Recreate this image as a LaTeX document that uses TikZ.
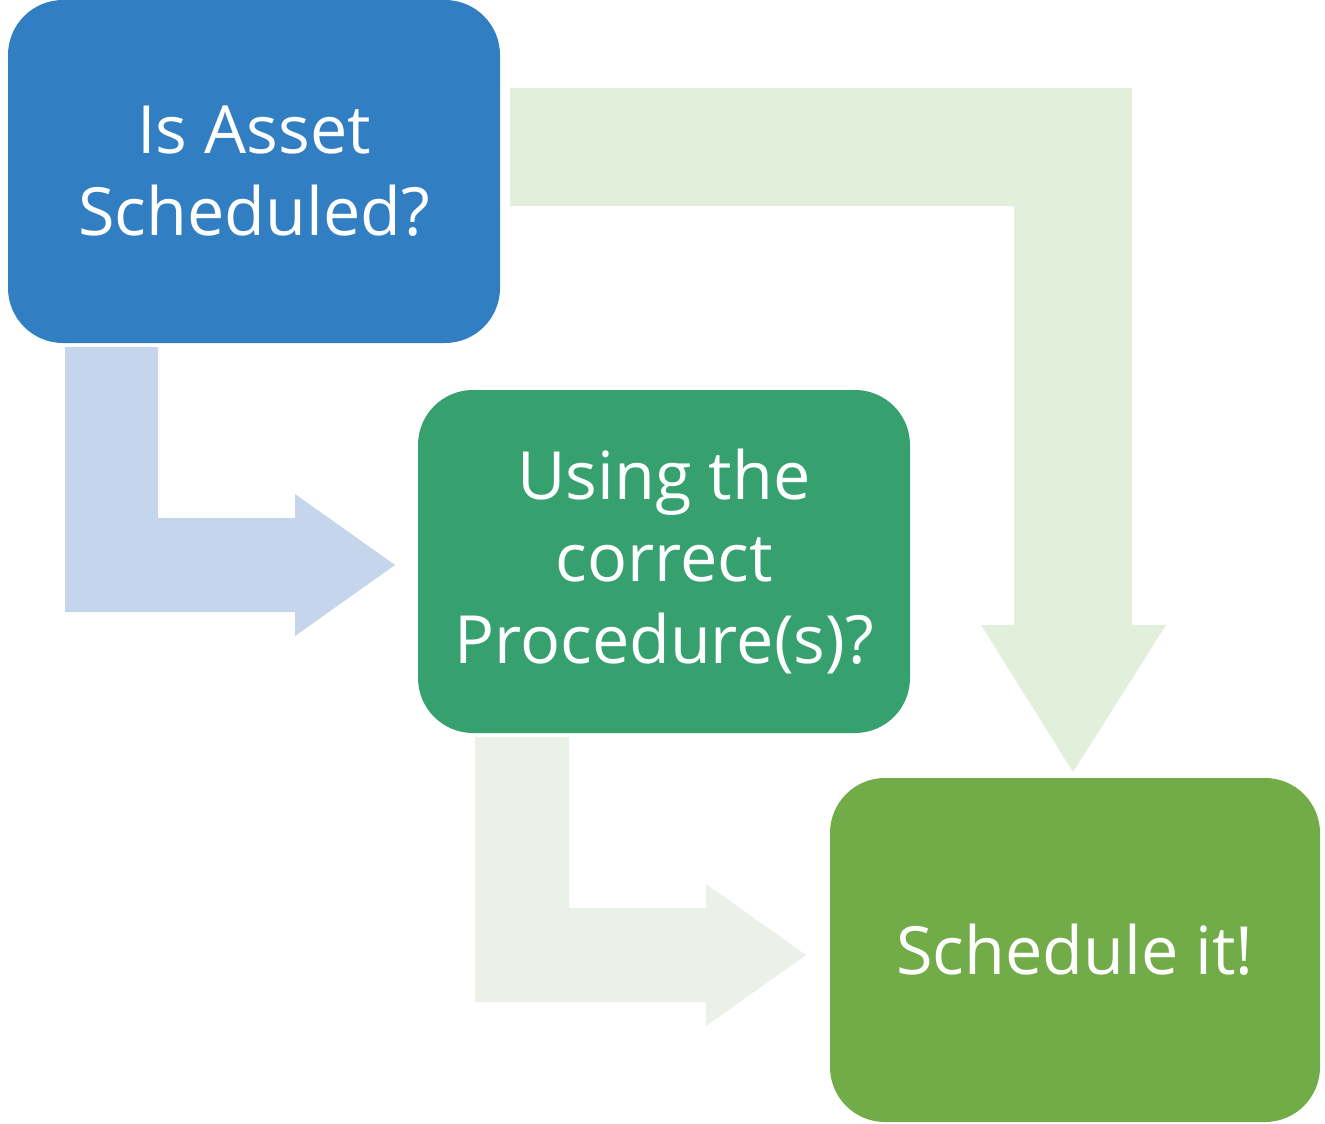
\documentclass[tikz,border=0pt]{standalone}
\usepackage{fontspec}
\setmainfont{Open Sans}
\usetikzlibrary{positioning}

\definecolor{assetblue}{HTML}{327EC3}
\definecolor{procgreen}{HTML}{36A06E}
\definecolor{schedgreen}{HTML}{72AC48}
\definecolor{arrowblue}{HTML}{C5D5EC}
\definecolor{arrowgray}{HTML}{EBF0E8}
\definecolor{arrowgreen}{HTML}{E2EFDA}

\tikzset{
  stepbox/.style={rounded corners=55pt, minimum width=492pt, minimum height=343pt,
    align=center, text=white, inner sep=0pt,
    font=\fontsize{66.5}{82}\selectfont},
  blockarrow/.style={draw=none}
}

\begin{document}
\begin{tikzpicture}[x=1pt, y=-1pt]
  \useasboundingbox (0,0) rectangle (1325,1124);

  % Mũi tên khối phía sau
  \fill[arrowblue] (65,347) -- (158,347) -- (158,518) -- (295,518) -- (295,494)
    -- (395,565) -- (295,636) -- (295,612) -- (65,612) -- cycle;
  \fill[arrowgray] (475,737) -- (569,737) -- (569,908) -- (706,908) -- (706,884)
    -- (806,955) -- (706,1026) -- (706,1002) -- (475,1002) -- cycle;
  \fill[arrowgreen] (510,88) -- (1132,88) -- (1132,625) -- (1166,625)
    -- (1073,772) -- (981,625) -- (1014,625) -- (1014,206) -- (510,206) -- cycle;

  % Các hộp
  \node[stepbox, fill=assetblue] (asset) at (254,171.5) {Is Asset\\Scheduled?};
  \node[stepbox, fill=procgreen] (proc) at (664,561.5) {Using the\\correct\\Procedure(s)?};
  \node[stepbox, fill=schedgreen, minimum width=490pt, minimum height=344pt]
    (sched) at (1075,950) {Schedule it!};
\end{tikzpicture}
\end{document}
